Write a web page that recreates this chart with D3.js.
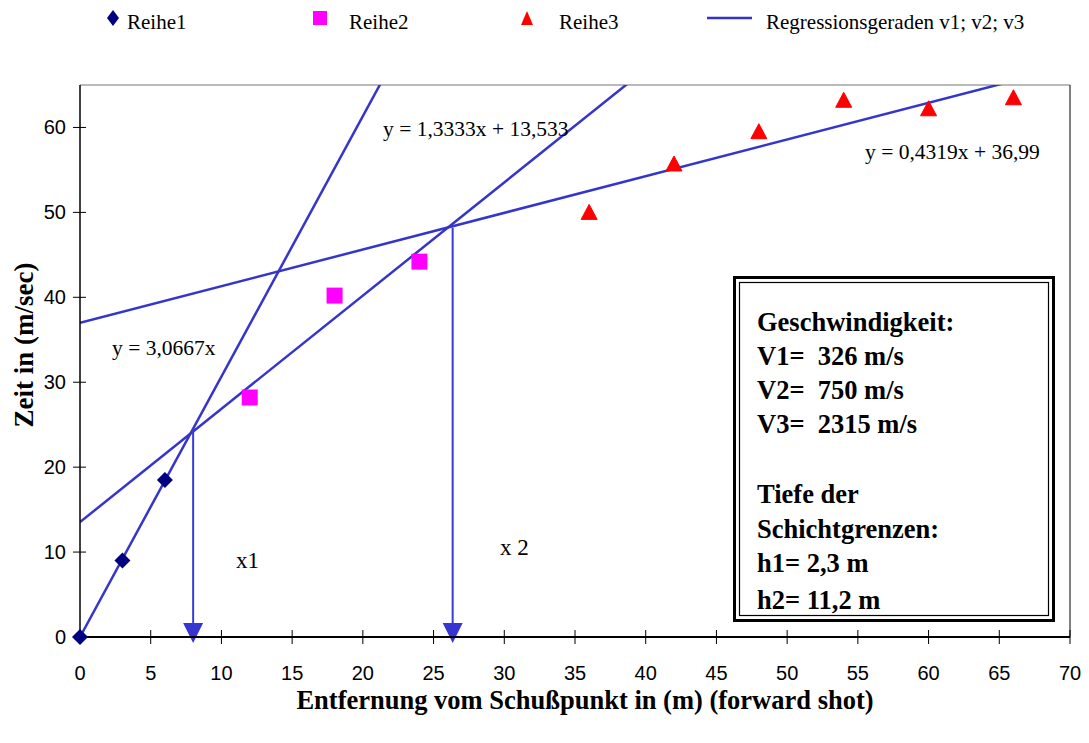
<!DOCTYPE html>
<html><head><meta charset="utf-8">
<script src="https://cdn.jsdelivr.net/npm/d3@7"></script>
<style>body{margin:0;background:#fff}svg{display:block;font-family:"Liberation Serif","Times New Roman",serif}</style>
</head><body><svg id="c" width="1089" height="743"></svg>
<script>
const reihe1 = [[0,0],[3,9],[6,18.5]];
const reihe2 = [[12,28.2],[18,40.2],[24,44.2]];
const reihe3 = [[36,50],[42,55.7],[48,59.5],[54,63.2],[60,62.2],[66,63.5]];
const regressions = [
  {m:3.0667, b:0, label:"y = 3,0667x", lx:112, ly:355},
  {m:1.3333, b:13.533, label:"y = 1,3333x + 13,533", lx:383, ly:136},
  {m:0.4319, b:36.99, label:"y = 0,4319x + 36,99", lx:865, ly:159}
];
const arrowX = [8.0, 26.35];
const arrowTop = [24.4, 48.2];
const arrowLabels = [{t:"x1", x:236, y:568},{t:"x 2", x:500, y:555}];
const xTicks = d3.range(0, 71, 5);
const yTicks = d3.range(0, 61, 10);
const boxLines = ["Geschwindigkeit:","V1=  326 m/s","V2=  750 m/s","V3=  2315 m/s","","Tiefe der","Schichtgrenzen:","h1= 2,3 m","h2= 11,2 m"];
const legendItems = [
  {name:"Reihe1", type:"diamond", color:"#000080", mx:113, tx:127},
  {name:"Reihe2", type:"square", color:"#ff00ff", mx:320, tx:349},
  {name:"Reihe3", type:"triangle", color:"#ff0000", mx:527, tx:559},
  {name:"Regressionsgeraden v1; v2; v3", type:"line", color:"#3333cc", mx:729, tx:766}
];

const svg = d3.select("#c");
const L=80, R=1070, T=85, B=637;
const x = d3.scaleLinear().domain([0,70]).range([L,R]);
const y = d3.scaleLinear().domain([0,65]).range([B,T]);
const lineCol = "#3535cc";

svg.append("line").attr("x1",L).attr("x2",R).attr("y1",T).attr("y2",T).attr("stroke","#777").attr("stroke-width",1.2);
svg.append("line").attr("x1",R).attr("x2",R).attr("y1",T).attr("y2",B).attr("stroke","#000").attr("stroke-width",1);

svg.append("defs").append("clipPath").attr("id","pc").append("rect").attr("x",L).attr("y",T).attr("width",R-L).attr("height",B-T);

const g = svg.append("g").attr("clip-path","url(#pc)");
regressions.forEach(r=>{
  g.append("line").attr("x1",x(0)).attr("y1",y(r.b)).attr("x2",x(70)).attr("y2",y(r.m*70+r.b))
   .attr("stroke",lineCol).attr("stroke-width",2.5);
});
regressions.forEach(r=>{
  svg.append("text").attr("x",r.lx).attr("y",r.ly).attr("font-size",21.5).attr("fill","#000").text(r.label);
});

arrowX.forEach((ax,i)=>{
  svg.append("line").attr("x1",x(ax)).attr("x2",x(ax)).attr("y1",y(arrowTop[i])).attr("y2",B-10)
    .attr("stroke","#3a3ad8").attr("stroke-width",2);
  const px=x(ax);
  svg.append("path").attr("d",`M${px-10},${B-14}L${px+10},${B-14}L${px},${B+6}Z`).attr("fill","#3535d0");
});
arrowLabels.forEach(a=>svg.append("text").attr("x",a.x).attr("y",a.y).attr("font-size",23).text(a.t));

const xa = svg.append("g").attr("transform",`translate(0,${B})`)
  .call(d3.axisBottom(x).tickValues(xTicks).tickSize(0).tickPadding(0));
xa.select(".domain").remove();
xa.selectAll("text").remove();
xTicks.forEach(t=>{
  xa.append("line").attr("x1",x(t)).attr("x2",x(t)).attr("y1",-7).attr("y2",7).attr("stroke","#000").attr("stroke-width",1);
  xa.append("text").attr("x",x(t)).attr("y",43).attr("text-anchor","middle").attr("font-size",20).attr("fill","#000").text(t);
});
svg.append("line").attr("x1",L).attr("x2",R).attr("y1",B).attr("y2",B).attr("stroke","#000").attr("stroke-width",2);

const ya = svg.append("g").attr("transform",`translate(${L},0)`)
  .call(d3.axisLeft(y).tickValues(yTicks).tickSize(0));
ya.select(".domain").remove();
ya.selectAll("text").remove();
yTicks.forEach(t=>{
  ya.append("line").attr("x1",-7).attr("x2",6).attr("y1",y(t)).attr("y2",y(t)).attr("stroke","#000");
  ya.append("text").attr("x",-14).attr("y",y(t)+7).attr("text-anchor","end").attr("font-size",20).attr("fill","#000").text(t);
});
svg.append("line").attr("x1",L).attr("x2",L).attr("y1",T).attr("y2",B).attr("stroke","#000").attr("stroke-width",1.5);

function marker(sel,type,color,cx,cy){
  if(type==="diamond"){
    sel.append("path").attr("d",`M${cx},${cy-8}L${cx+8},${cy}L${cx},${cy+8}L${cx-8},${cy}Z`).attr("fill",color);
  } else if(type==="square"){
    sel.append("rect").attr("x",cx-8).attr("y",cy-8).attr("width",16).attr("height",16).attr("fill",color);
  } else if(type==="triangle"){
    sel.append("path").attr("d",`M${cx},${cy-8}L${cx+8},${cy+7}L${cx-8},${cy+7}Z`).attr("fill",color).attr("stroke",color).attr("stroke-width",1).attr("stroke-linejoin","round");
  }
}
reihe1.forEach(d=>marker(svg,"diamond","#000080",x(d[0]),y(d[1])));
reihe2.forEach(d=>marker(svg,"square","#ff00ff",x(d[0]),y(d[1])));
reihe3.forEach(d=>marker(svg,"triangle","#ff0000",x(d[0]),y(d[1])));

legendItems.forEach(li=>{
  if(li.type==="line"){
    svg.append("line").attr("x1",707).attr("x2",752).attr("y1",18).attr("y2",18).attr("stroke",li.color).attr("stroke-width",2.5);
  } else if(li.type==="diamond"){
    svg.append("path").attr("d",`M${li.mx},10L${li.mx+6},18L${li.mx},26L${li.mx-6},18Z`).attr("fill",li.color);
  } else if(li.type==="square"){
    svg.append("rect").attr("x",li.mx-7).attr("y",11).attr("width",14).attr("height",14).attr("fill",li.color);
  } else {
    svg.append("path").attr("d",`M${li.mx},11L${li.mx+6},25L${li.mx-6},25Z`).attr("fill",li.color);
  }
  svg.append("text").attr("x",li.tx).attr("y",29).attr("font-size",21).attr("fill","#000").text(li.name);
});

svg.append("text").attr("x",585).attr("y",709).attr("text-anchor","middle").attr("font-size",26.5).attr("font-weight","bold").text("Entfernung vom Schußpunkt in (m) (forward shot)");
svg.append("text").attr("transform","translate(33,345) rotate(-90)").attr("text-anchor","middle").attr("font-size",27).attr("font-weight","bold").text("Zeit in (m/sec)");

svg.append("rect").attr("x",734.5).attr("y",277.5).attr("width",319).attr("height",343).attr("fill","#fff").attr("stroke","#000").attr("stroke-width",3);
svg.append("rect").attr("x",739.5).attr("y",282.5).attr("width",309).attr("height",333).attr("fill","none").attr("stroke","#000").attr("stroke-width",1.2);
const baseY=[331,365,399,433,0,503,538,572,609];
boxLines.forEach((t,i)=>{
  if(!t) return;
  svg.append("text").attr("x",757).attr("y",baseY[i]).attr("font-size",26.5).attr("font-weight","bold").attr("fill","#000").style("white-space","pre").text(t);
});
</script></body></html>
